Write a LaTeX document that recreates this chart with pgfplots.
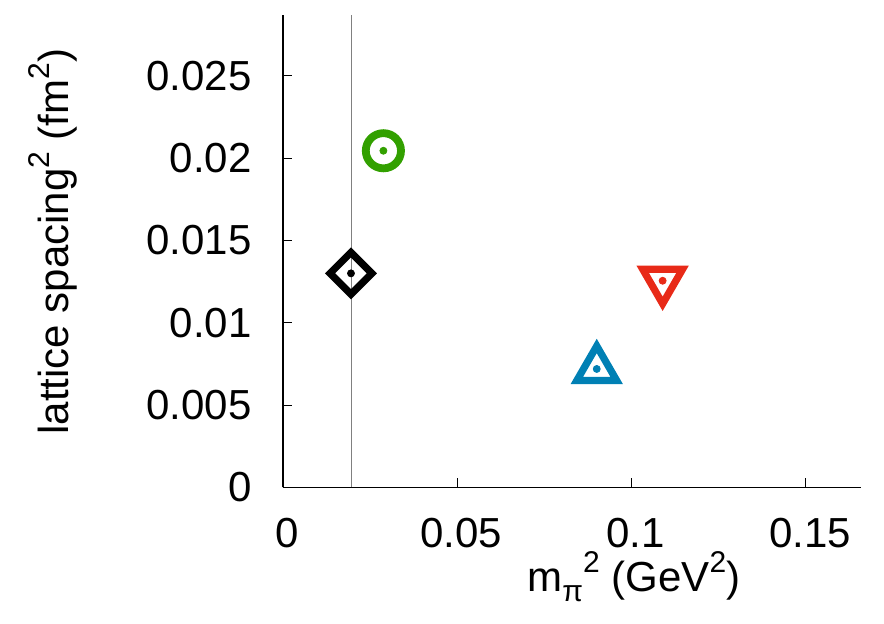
\documentclass[border=0pt]{standalone}
\usepackage{fontspec}
\setmainfont{Liberation Sans}
\usepackage{pgfplots}
\pgfplotsset{compat=1.18}
\definecolor{cgreen}{RGB}{50,160,0}
\definecolor{cred}{RGB}{232,42,24}
\definecolor{cblue}{RGB}{0,128,180}
\newcommand{\sups}[1]{\raisebox{0.85ex}{\fontsize{15pt}{15pt}\selectfont #1}}
\newcommand{\subs}[1]{\raisebox{-0.45ex}{\fontsize{15pt}{15pt}\selectfont #1}}
\begin{document}
\fontsize{21pt}{25pt}\selectfont
\begin{tikzpicture}
\useasboundingbox (-141.5pt,-68.35pt) rectangle (300.5pt,243.65pt);
\begin{axis}[
  at={(0,0)}, anchor=south west,
  scale only axis, width=289pt, height=236.15pt,
  xmin=0, xmax=0.1658, ymin=0, ymax=0.0287,
  axis x line*=bottom, axis y line*=left,
  axis line style={black, line width=0.7pt, -},
  scaled x ticks=false, scaled y ticks=false,
  xtick={0,0.05,0.1,0.15}, xticklabels={0,0.05,0.1,0.15},
  ytick={0,0.005,0.01,0.015,0.02,0.025},
  yticklabels={0,0.005,0.01,0.015,0.02,0.025},
  tick align=inside, major tick length=4.5pt,
  tick style={black, line width=0.5pt},
  xticklabel style={anchor=north, yshift=-8pt, xshift=2pt},
  yticklabel style={anchor=east, xshift=-8.5pt},
  xlabel={m\subs{π}\sups{2} (GeV\sups{2})},
  xlabel style={at={(rel axis cs:0.607,0)}, anchor=base, yshift=-52.2pt},
  ylabel={lattice spacing\sups{2} (fm\sups{2})},
  ylabel style={at={(rel axis cs:0,0.52)}, anchor=center, yshift=115pt},
  clip=false,
]
\addplot[gray, line width=0.5pt] coordinates {(0.0196,0) (0.0196,0.0287)};
% green circle
\addplot[only marks, mark=o, mark size=8.8pt, cgreen, line width=3.9pt] coordinates {(0.0288,0.02045)};
\addplot[only marks, mark=*, mark size=1.75pt, cgreen] coordinates {(0.0288,0.02045)};
% black diamond
\addplot[only marks, mark=square, mark size=7.4pt, black, line width=3.6pt, line join=miter, mark options={rotate=45, line join=miter}] coordinates {(0.0195,0.0130)};
\addplot[only marks, mark=*, mark size=1.75pt, black] coordinates {(0.0195,0.0130)};
% blue up triangle
\addplot[only marks, mark=triangle, mark size=11.5pt, cblue, line width=3.6pt, mark options={line join=miter}] coordinates {(0.0900,0.00719)};
\addplot[only marks, mark=*, mark size=1.75pt, cblue] coordinates {(0.0900,0.00719)};
% red down triangle
\addplot[only marks, mark=triangle, mark size=11.5pt, cred, line width=3.6pt, mark options={rotate=180, line join=miter}] coordinates {(0.1089,0.01255)};
\addplot[only marks, mark=*, mark size=1.75pt, cred] coordinates {(0.1089,0.01255)};
\end{axis}
\end{tikzpicture}
\end{document}
